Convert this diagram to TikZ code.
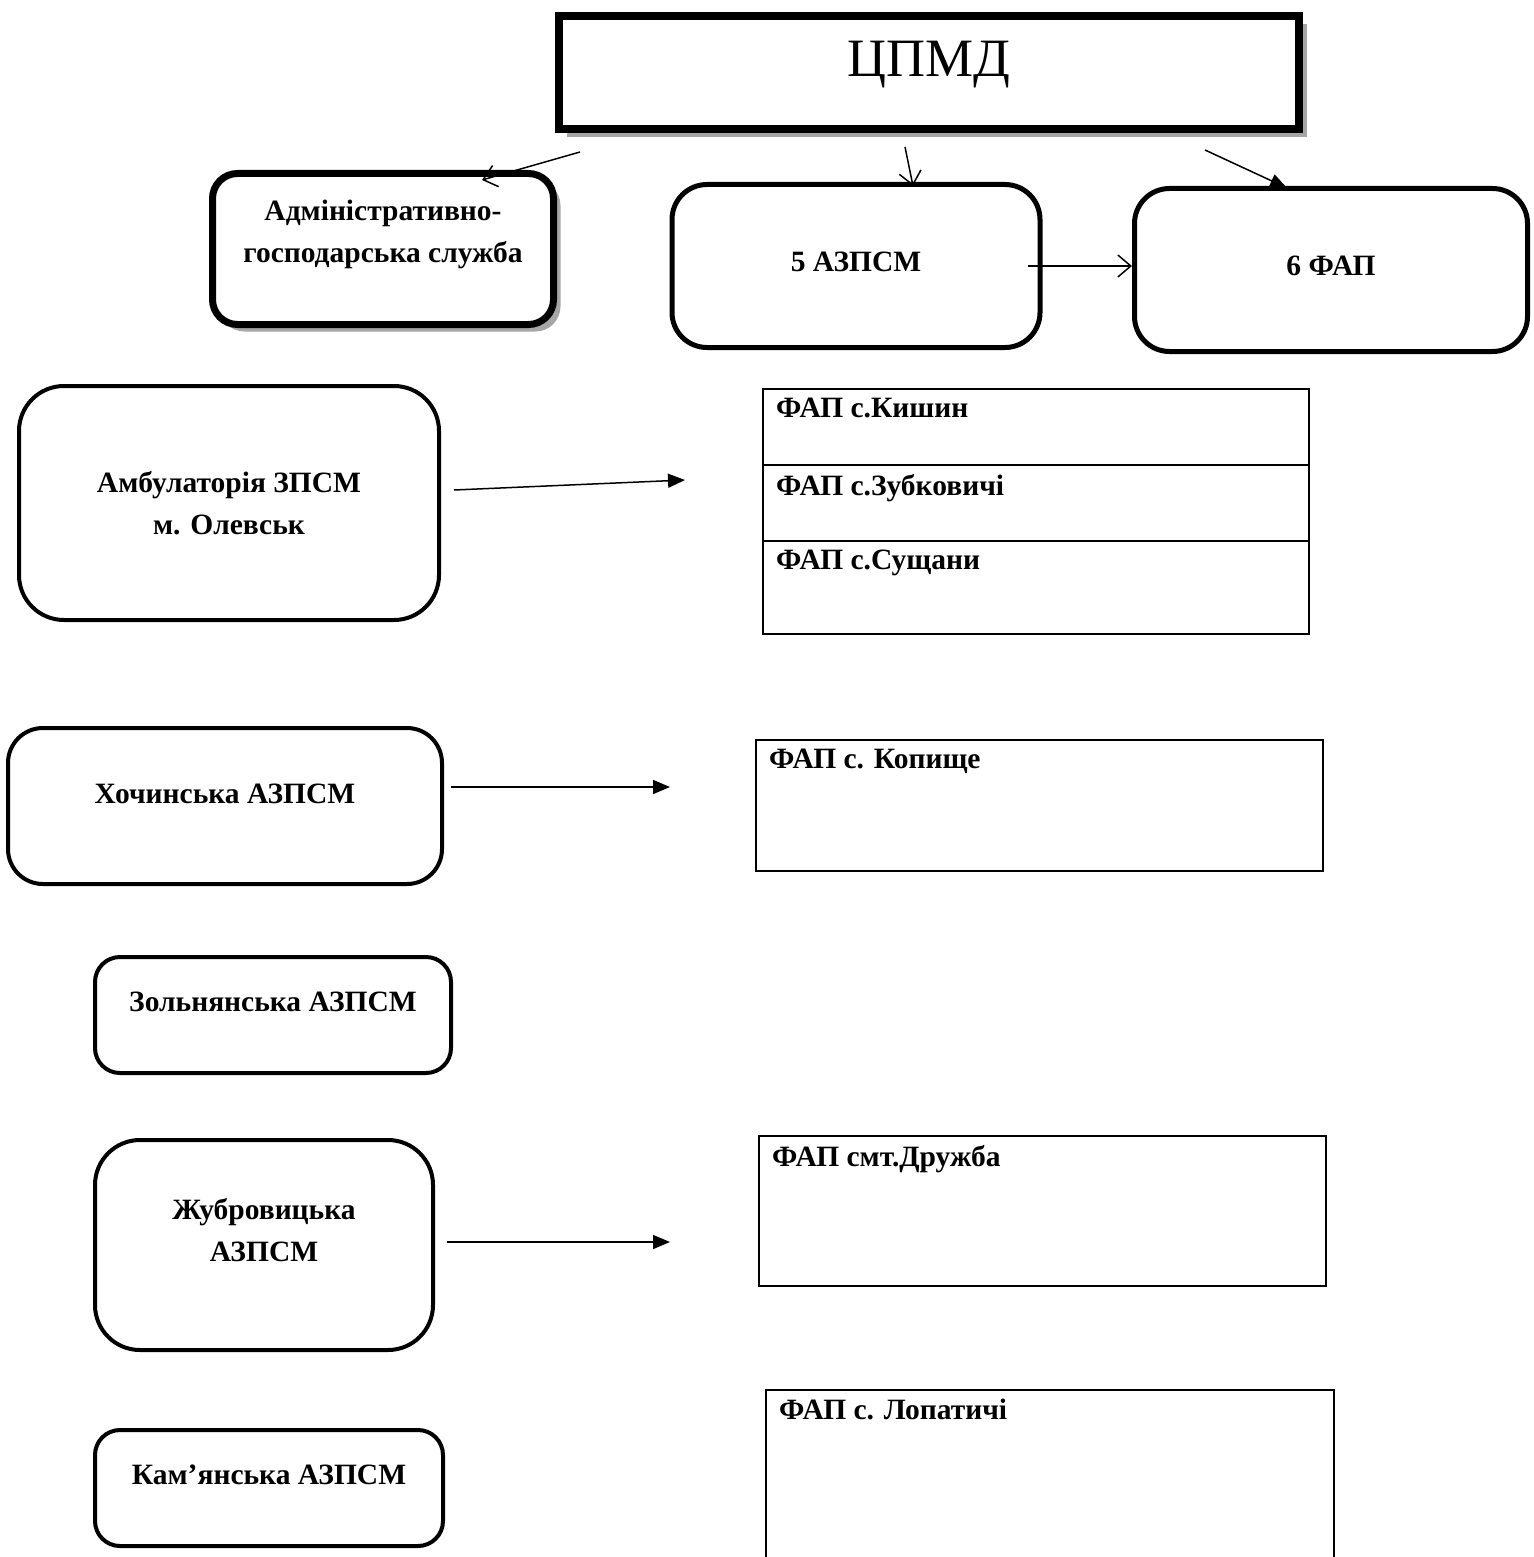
\documentclass[tikz,border=0pt]{standalone}
\usepackage{fontspec}
\setmainfont{Liberation Serif}
\usetikzlibrary{arrows.meta,shadows}

\begin{document}
\begin{tikzpicture}[x=1pt,y=-1pt,rb/.style n args={4}{draw,rectangle,rounded corners=#1,line width=#2,minimum width=#3,minimum height=#4,fill=white},fap/.style n args={2}{draw,rectangle,line width=2pt,minimum width=#1,minimum height=#2},txt/.style={font=\fontsize{29.5}{42}\selectfont\bfseries,align=center,inner sep=0pt},flbl/.style={anchor=north west,inner xsep=14pt,inner ysep=10pt,font=\fontsize{29.5}{34}\selectfont\bfseries},shd/.style={drop shadow={shadow xshift=#1,shadow yshift=-#1,fill=black!35,opacity=1}},opn/.style={line width=1.5pt,-{Straight Barb[length=13pt,width=22pt]}},fld/.style={line width=1.5pt,-{Triangle[length=17pt,width=14pt]}}]
\useasboundingbox (0,0) rectangle (1533,1557);
\clip (0,0) rectangle (1533,1557);
\node[draw,rectangle,line width=8pt,minimum width=740,minimum height=113,fill=white,shd=8pt] (cpmd) at (929,72.5) {};
\node[font=\fontsize{54}{60}\selectfont,inner sep=0pt] (cpmd-t) at ([yshift=8pt]cpmd) {ЦПМД};
\node[rb={25pt}{7pt}{341}{151},shd=7pt] (adm) at (383,249) {};
\node[txt] (adm-t) at ([yshift=15pt]adm) {Адміністративно-\\господарська служба};
\node[rb={35pt}{5pt}{368}{163}] (azpsm5) at (856,266) {};
\node[txt] (azpsm5-t) at ([yshift=4pt]azpsm5) {5 АЗПСМ};
\node[rb={35pt}{5pt}{393}{163}] (fap6) at (1331,270) {};
\node[txt] (fap6-t) at ([yshift=4pt]fap6) {6 ФАП};
\node[rb={45pt}{4pt}{420}{234}] (amb) at (229,503) {};
\node[txt] (amb-t) at (amb) {Амбулаторія ЗПСМ\\м. Олевськ};
\node[rb={35pt}{4pt}{434}{156}] (khoch) at (225,806) {};
\node[txt] (khoch-t) at ([yshift=12pt]khoch) {Хочинська АЗПСМ};
\node[rb={25pt}{4pt}{356}{116}] (zoln) at (273,1015) {};
\node[txt] (zoln-t) at ([yshift=13pt]zoln) {Зольнянська АЗПСМ};
\node[rb={45pt}{4pt}{338}{210}] (zhub) at (264,1245) {};
\node[txt] (zhub-t) at ([yshift=15pt]zhub) {Жубровицька\\АЗПСМ};
\node[rb={25pt}{4pt}{348}{116}] (kam) at (269,1488) {};
\node[txt] (kam-t) at ([yshift=13pt]kam) {Кам’янська АЗПСМ};
\node[fap={546}{76},label={[flbl]north west:ФАП с.Кишин}] (kysh) at (1036,427) {};
\node[fap={546}{76},label={[flbl]north west:ФАП с.Зубковичі}] (zubk) at (1036,503) {};
\node[fap={546}{93},label={[flbl]north west:ФАП с.Сущани}] (sushch) at (1036,587.5) {};
\node[fap={567}{131},label={[flbl]north west:ФАП с. Копище}] (kop) at (1039.5,805.5) {};
\node[fap={567}{150},label={[flbl]north west:ФАП смт.Дружба}] (druzh) at (1042.5,1211) {};
\node[fap={568}{210},label={[flbl]north west:ФАП с. Лопатичі}] (lopat) at (1050,1495) {};
\draw[opn] ([shift={(25,19)}]cpmd.south west) -- ([shift={(273,10)}]adm.north west);
\draw[opn] ([shift={(-24,14)}]cpmd.south) -- ([shift={(57,4)}]azpsm5.north);
\draw[fld] ([shift={(276,17)}]cpmd.south) -- ([shift={(-44,2)}]fap6.north);
\draw[opn] ([xshift=-15pt]azpsm5.east) -- (fap6.west |- azpsm5.east);
\draw[fld] ([shift={(13,-13)}]amb.east) -- ([shift={(-77,-23)}]zubk.west);
\coordinate (k1) at ([shift={(7,-19)}]khoch.east);
\draw[fld,shorten >=85pt] (k1) -- (k1 -| kop.west);
\coordinate (z1) at ([shift={(12,-3)}]zhub.east);
\draw[fld,shorten >=88pt] (z1) -- (z1 -| druzh.west);
\end{tikzpicture}
\end{document}
